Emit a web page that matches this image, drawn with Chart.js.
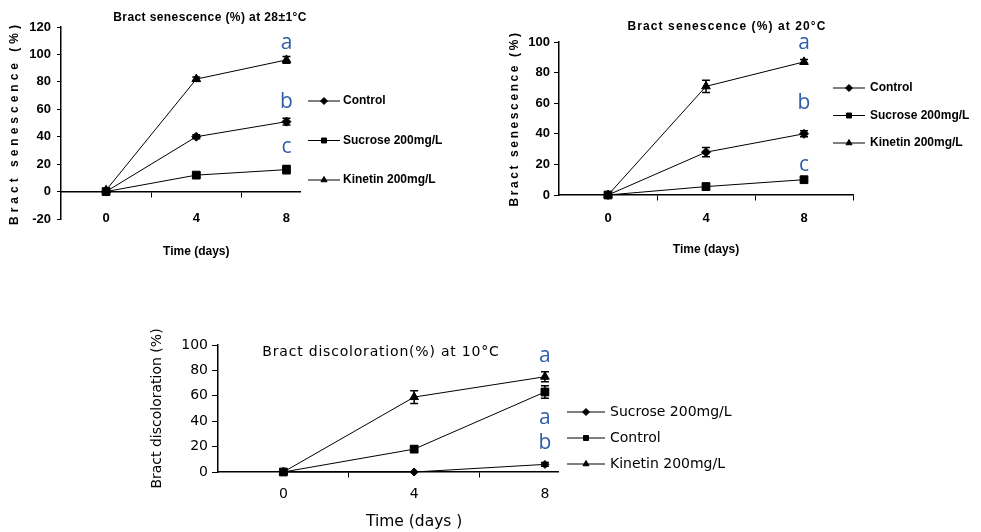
<!DOCTYPE html>
<html lang="en">
<head>
  <meta charset="UTF-8">
  <title>Bract senescence and discoloration</title>
  <style>
    * { margin: 0; padding: 0; box-sizing: border-box; }
    body { width: 981px; height: 532px; background: #fff; position: relative; overflow: hidden; }
    canvas { position: absolute; }
  </style>
  <script src="https://cdn.jsdelivr.net/npm/chart.js"></script>
</head>
<body>
  <canvas id="hotChart" width="480" height="270" style="left:0;top:0"></canvas>
  <canvas id="midChart" width="501" height="270" style="left:480px;top:0"></canvas>
  <canvas id="coldChart" width="620" height="232" style="left:130px;top:300px"></canvas>

  <script>
    const days = [0, 4, 8];

    // Bract senescence (%) at 28±1°C
    const hotControl = [0, 40, 51];
    const hotSucrose = [0, 12, 16];
    const hotKinetin = [1, 82, 96];
    const hotControlErr = [0, 1.5, 2.5];
    const hotSucroseErr = [0, 1.5, 3];
    const hotKinetinErr = [0, 1.5, 2.5];
    const hotLetters = ['a', 'b', 'c'];
    const hotLetterY = [109, 66, 33];

    // Bract senescence (%) at 20°C
    const midControl = [0, 28, 40];
    const midSucrose = [0, 5.5, 10];
    const midKinetin = [0, 71, 87];
    const midControlErr = [0, 3, 2];
    const midSucroseErr = [0, 2, 1];
    const midKinetinErr = [0, 4, 1.5];
    const midLetters = ['a', 'b', 'c'];
    const midLetterY = [100, 61, 20];

    // Bract discoloration (%) at 10°C
    const coldSucrose = [0, 0, 6];
    const coldControl = [0, 18, 63];
    const coldKinetin = [0, 59, 75];
    const coldSucroseErr = [0, 0, 1.5];
    const coldControlErr = [0, 2, 5];
    const coldKinetinErr = [0, 5, 4];
    const coldLetters = ['a', 'a', 'b'];
    const coldLetterY = [92, 43, 24];

    const NARROW = "'Liberation Sans Narrow', 'Arial Narrow', Arial, sans-serif";
    const WIDE = "'DejaVu Sans', Verdana, sans-serif";

    // titles, legend, letters, error bars and day labels
    const decor = {
      id: 'decor',
      afterDatasetsDraw(chart, args, o) {
        const ctx = chart.ctx;
        const xs = chart.scales.x, ys = chart.scales.y;
        const area = chart.chartArea;
        const spacing = px => { if ('letterSpacing' in ctx) ctx.letterSpacing = px + 'px'; };
        ctx.save();
        ctx.strokeStyle = '#000';
        ctx.fillStyle = '#000';

        // error bars
        ctx.lineWidth = 1.5;
        chart.data.datasets.forEach((ds, i) => {
          chart.getDatasetMeta(i).data.forEach((pt, j) => {
            const e = ds.errors[j];
            if (!e) return;
            const top = ys.getPixelForValue(ds.data[j].y + e);
            const bot = ys.getPixelForValue(ds.data[j].y - e);
            ctx.beginPath();
            ctx.moveTo(pt.x, top); ctx.lineTo(pt.x, bot);
            ctx.moveTo(pt.x - 4, top); ctx.lineTo(pt.x + 4, top);
            ctx.moveTo(pt.x - 4, bot); ctx.lineTo(pt.x + 4, bot);
            ctx.stroke();
          });
        });

        ctx.textBaseline = 'middle';
        ctx.textAlign = 'center';

        // day labels under the axis
        ctx.font = o.tickFont;
        days.forEach(d => ctx.fillText(String(d), xs.getPixelForValue(d), o.dayY));

        // x title, centred on day 4
        ctx.font = o.axisFont;
        ctx.fillText(o.xTitle, xs.getPixelForValue(4), o.xTitleY);

        // y title
        ctx.save();
        ctx.font = o.yTitleFont;
        ctx.translate(o.yTitleX, (area.top + area.bottom) / 2);
        ctx.rotate(-Math.PI / 2);
        spacing(o.ySpacing);
        ctx.fillText(o.yTitle, 0, 0);
        ctx.restore();

        // chart title
        ctx.save();
        ctx.font = o.titleFont;
        spacing(o.titleSpacing);
        ctx.fillText(o.title, o.titleX, o.titleY);
        ctx.restore();

        // legend
        const lg = o.legend;
        ctx.textAlign = 'left';
        ctx.font = o.legendFont;
        chart.data.datasets.forEach((ds, i) => {
          const y = lg.y + i * lg.step;
          ctx.lineWidth = 1;
          ctx.beginPath();
          ctx.moveTo(lg.x, y); ctx.lineTo(lg.x + lg.len, y);
          ctx.stroke();
          Chart.helpers.drawPoint(ctx, {
            pointStyle: ds.pointStyle, radius: lg.radius, rotation: 0, borderWidth: 1
          }, lg.x + lg.len / 2, y);
          ctx.fillText(ds.label, lg.x + lg.len + lg.gap, y);
        });

        // significance letters
        ctx.textAlign = 'center';
        ctx.textBaseline = 'alphabetic';
        ctx.font = "21px 'Open Sans', 'Noto Sans', sans-serif";
        ctx.fillStyle = '#2f5ea8';
        o.letters.forEach((t, i) => {
          ctx.fillText(t, xs.getPixelForValue(8), ys.getPixelForValue(o.letterY[i]) + 7);
        });
        ctx.restore();
      }
    };

    function series(label, values, errors, style, radius) {
      return {
        label: label,
        data: days.map((d, i) => ({ x: d, y: values[i] })),
        errors: errors,
        pointStyle: style,
        pointRadius: radius,
        borderColor: '#000',
        backgroundColor: '#000',
        pointBackgroundColor: '#000',
        pointBorderColor: '#000',
        borderWidth: 1,
        pointBorderWidth: 1,
        tension: 0,
        clip: false
      };
    }

    function build(id, datasets, opt) {
      return new Chart(document.getElementById(id), {
        type: 'line',
        data: { datasets: datasets },
        options: {
          responsive: false,
          animation: false,
          events: [],
          layout: { padding: opt.padding },
          plugins: {
            legend: { display: false },
            tooltip: { enabled: false },
            decor: opt.decor
          },
          scales: {
            x: {
              type: 'linear',
              position: { y: 0 },
              min: -2,
              max: opt.xMax,
              afterBuildTicks: axis => {
                axis.ticks = [0, 2, 4, 6, 8, 10].filter(v => v <= axis.max).map(v => ({ value: v }));
              },
              ticks: { display: false },
              grid: {
                drawOnChartArea: false,
                tickLength: 5,
                tickWidth: 1,
                tickColor: c => (c.tick && c.tick.value % 4 === 0 ? 'rgba(0,0,0,0)' : '#000')
              },
              border: { color: '#000', width: 1.5 }
            },
            y: {
              min: opt.yMin,
              max: opt.yMax,
              afterFit: s => { s.width = opt.yWidth; },
              ticks: {
                stepSize: 20,
                color: '#000',
                font: opt.tickFont,
                padding: opt.tickPad
              },
              grid: {
                drawOnChartArea: false,
                tickLength: opt.tickLen,
                tickColor: '#000'
              },
              border: { color: '#000', width: 1.5 }
            }
          }
        },
        plugins: [decor]
      });
    }

    build('hotChart', [
      series('Control', hotControl, hotControlErr, 'rectRot', 4.5),
      series('Sucrose 200mg/L', hotSucrose, hotSucroseErr, 'rect', 5.5),
      series('Kinetin 200mg/L', hotKinetin, hotKinetinErr, 'triangle', 5)
    ], {
      padding: { left: 0, top: 27, right: 180, bottom: 51 },
      xMax: 8.6, yMin: -20, yMax: 120, yWidth: 61,
      tickFont: { family: NARROW, size: 13, weight: 'bold' }, tickPad: 6, tickLen: 4,
      decor: {
        tickFont: "bold 13px " + NARROW, dayY: 218,
        axisFont: "bold 12px " + NARROW,
        xTitle: 'Time (days)', xTitleY: 252,
        yTitleFont: "bold 12px " + NARROW,
        yTitle: 'Bract senescence (%)', yTitleX: 15, ySpacing: 4,
        titleFont: "bold 12px " + NARROW, titleSpacing: 0.4,
        title: 'Bract senescence (%) at 28±1°C', titleX: 210, titleY: 18,
        legendFont: "bold 12px " + NARROW,
        legend: { x: 308, y: 101, step: 39.5, len: 32, gap: 3, radius: 3.5 },
        letters: hotLetters, letterY: hotLetterY
      }
    });

    build('midChart', [
      series('Control', midControl, midControlErr, 'rectRot', 4.5),
      series('Sucrose 200mg/L', midSucrose, midSucroseErr, 'rect', 5.5),
      series('Kinetin 200mg/L', midKinetin, midKinetinErr, 'triangle', 5)
    ], {
      padding: { left: 30, top: 42, right: 128, bottom: 75 },
      xMax: 10, yMin: 0, yMax: 100, yWidth: 49,
      tickFont: { family: NARROW, size: 13, weight: 'bold' }, tickPad: 4, tickLen: 5,
      decor: {
        tickFont: "bold 13px " + NARROW, dayY: 218,
        axisFont: "bold 12px " + NARROW,
        xTitle: 'Time (days)', xTitleY: 250,
        yTitleFont: "bold 12px " + NARROW,
        yTitle: 'Bract senescence (%)', yTitleX: 35, ySpacing: 2.6,
        titleFont: "bold 12px " + NARROW, titleSpacing: 1.1,
        title: 'Bract senescence (%) at 20°C', titleX: 247, titleY: 27,
        legendFont: "bold 12px " + NARROW,
        legend: { x: 353, y: 88, step: 27.5, len: 32, gap: 5, radius: 3.5 },
        letters: midLetters, letterY: midLetterY
      }
    });

    build('coldChart', [
      series('Sucrose 200mg/L', coldSucrose, coldSucroseErr, 'rectRot', 4),
      series('Control', coldControl, coldControlErr, 'rect', 5.5),
      series('Kinetin 200mg/L', coldKinetin, coldKinetinErr, 'triangle', 5)
    ], {
      padding: { left: 40, top: 45, right: 192, bottom: 60 },
      xMax: 8.4, yMin: 0, yMax: 100, yWidth: 48,
      tickFont: { family: WIDE, size: 14 }, tickPad: 4, tickLen: 6,
      decor: {
        tickFont: "14px " + WIDE, dayY: 194,
        axisFont: "15.5px " + WIDE,
        xTitle: 'Time (days )', xTitleY: 222,
        yTitleFont: "14px " + WIDE,
        yTitle: 'Bract discoloration (%)', yTitleX: 27, ySpacing: 0,
        titleFont: "14px " + WIDE, titleSpacing: 0.8,
        title: 'Bract discoloration(%) at 10°C', titleX: 251, titleY: 52,
        legendFont: "14px " + WIDE,
        legend: { x: 437, y: 112, step: 26, len: 38, gap: 5, radius: 3.5 },
        letters: coldLetters, letterY: coldLetterY
      }
    });
  </script>
</body>
</html>
